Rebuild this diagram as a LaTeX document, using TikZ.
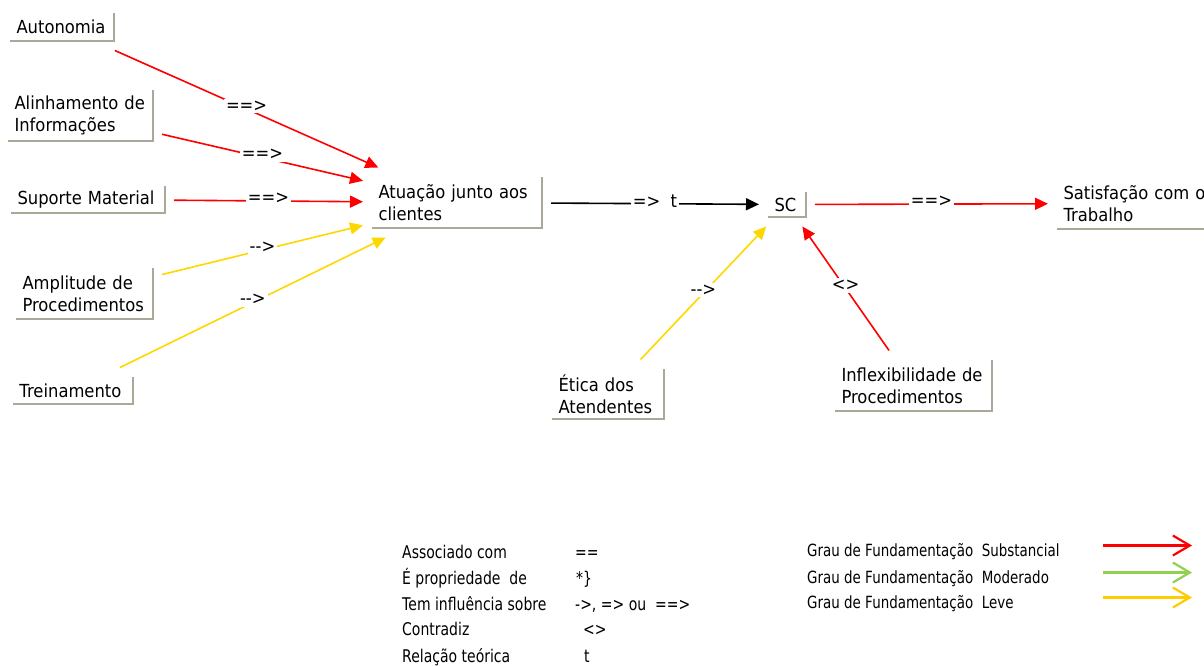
\documentclass[tikz,border=0pt]{standalone}
\usepackage{fontspec}
\setmainfont{DejaVu Sans}[FakeStretch=0.91]
\newfontfamily\legfont{DejaVu Sans}[FakeStretch=0.8]
\usetikzlibrary{arrows.meta}

\definecolor{boxgray}{RGB}{172,168,153}
\definecolor{substancial}{RGB}{255,0,0}
\definecolor{moderado}{RGB}{146,208,80}
\definecolor{leve}{RGB}{255,215,0}
\definecolor{leveleg}{RGB}{255,204,0}

\begin{document}
\begin{tikzpicture}[x=1pt, y=-1pt,
  concept/.style={inner xsep=6.5pt, inner ysep=0pt, outer xsep=9pt, outer ysep=9.5pt,
    align=left, minimum height=#1, font=\fontsize{18}{22}\selectfont},
  concept/.default=51pt,
  boxedge/.style={draw=boxgray, line width=1.8pt},
  link/.style={line width=1.6pt, -{Triangle[length=13pt,width=12pt]}},
  rel/.style={fill=white, inner sep=2pt, yshift=3pt, text=black,
    font=\fontsize{18}{22}\selectfont},
  legtext/.style={anchor=base west, inner sep=0pt, font=\legfont\fontsize{17.5}{19}\selectfont},
  grautext/.style={legtext, font=\legfont\fontsize{16.8}{19}\selectfont},
  legarrow/.style={line width=2.2pt, -{Straight Barb[length=17pt,width=20pt]}}]
  \useasboundingbox (0,0) rectangle (1204,666);

  \node[concept=28pt, text width=91pt]  (auto)  at (62,27)     {Autonomia};
  \node[concept, text width=132pt]      (alin)  at (80.5,115.5) {Alinhamento de\\Informações};
  \node[concept=27pt, text width=141pt] (sup)   at (88,199.5)   {Suporte Material};
  \node[concept, text width=124pt]      (ampl)  at (84.5,293.5) {Amplitude de\\Procedimentos};
  \node[concept=27pt, text width=107pt] (trei)  at (73,390.5)   {Treinamento};
  \node[concept, text width=157pt]      (atua)  at (457,202.5)  {Atuação junto aos\\clientes};
  \node[concept=25pt, text width=25pt]  (sc)    at (787,204.5)  {SC};
  \node[concept, text width=157pt]      (sat)   at (1142,203.5) {Satisfação com o\\Trabalho};
  \node[concept=50pt, text width=99pt]  (etica) at (608,394)    {Ética dos\\Atendentes};
  \node[concept, text width=144pt]      (infl)  at (913.5,385.5) {Inflexibilidade de\\Procedimentos};

  \foreach \n in {auto,alin,sup,ampl,trei,atua,sc,sat,etica,infl}
    \draw[boxedge] ([shift={(9pt,9.5pt)}]\n.south west) -| ([shift={(-9pt,-9.5pt)}]\n.north east);

  \draw[link, substancial] (auto) -- node[rel] {==>} (atua);
  \draw[link, substancial] (alin) -- node[rel] {==>} (atua);
  \draw[link, substancial] (sup)  -- node[rel] {==>} (atua);
  \draw[link, leve]        (ampl) -- node[rel] {-{}->} (atua);
  \draw[link, leve]        (trei) -- node[rel] {-{}->} (atua);
  \draw[link, black]       (atua) -- node[rel] {=>~~t} (sc);
  \draw[link, substancial] (sc)   -- node[rel] {==>} (sat);
  \draw[link, leve]        (etica) -- node[rel] {-{}->} (sc);
  \draw[link, substancial] (infl) -- node[rel] {<>} (sc);

  \foreach \y/\a/\x/\b [count=\i] in {558.5/Associado com/575/==,
      584.5/{É propriedade\ \ de}/576/{*\}},
      610.5/Tem influência sobre/575/{->, => ou\ \ ==>},
      635.5/Contradiz/583/<>,
      662.5/Relação teórica/584/t} {
    \node[legtext] (lname\i) at (402,\y) {\a};
    \node[legtext] (lsym\i) at (\x,\y) {\b};
  }

  \foreach \y/\g/\c [count=\i] in {556.5/Substancial/substancial,
      583.5/Moderado/moderado, 608.5/Leve/leveleg} {
    \node[grautext] (grau\i) at (807,\y) {Grau de Fundamentação\ \ \g};
    \coordinate (from\i) at (1103,\y-11);
    \coordinate (to\i) at (1192,\y-11);
    \draw[legarrow, \c] (from\i) -- (to\i);
  }
\end{tikzpicture}
\end{document}
